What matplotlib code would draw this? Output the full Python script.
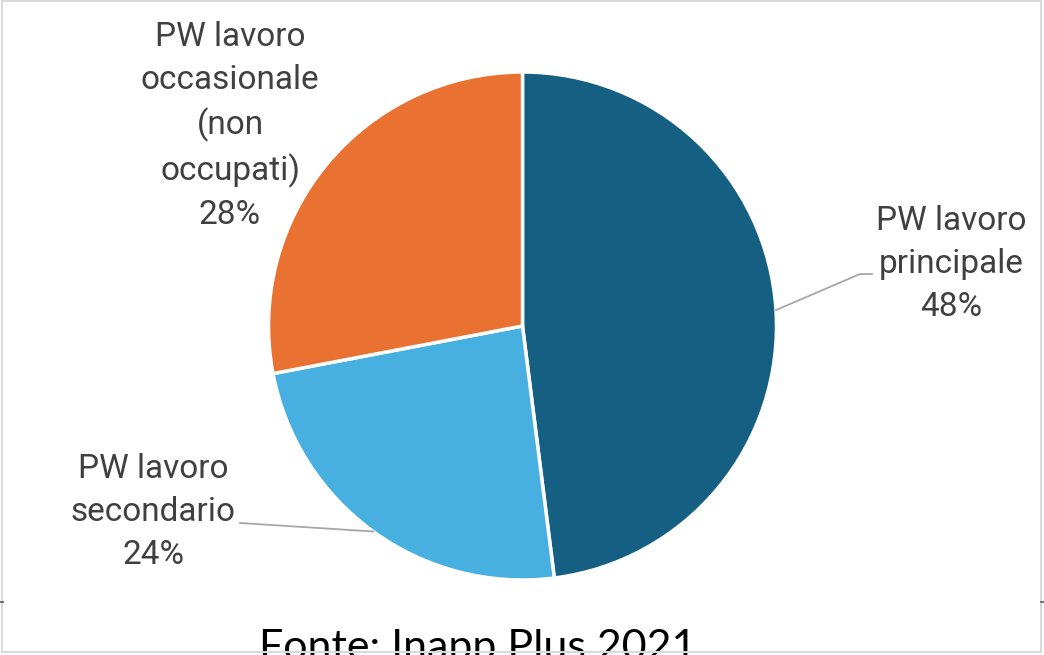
import numpy as np
import matplotlib
matplotlib.use("Agg")
import matplotlib.pyplot as plt
from matplotlib.patches import Rectangle

# Data
categories = ["PW lavoro principale", "PW lavoro secondario", "PW lavoro occasionale (non occupati)"]
label_texts = ["PW lavoro\nprincipale", "PW lavoro\nsecondario", "PW lavoro\noccasionale\n(non\noccupati)"]
shares = [48, 24, 28]
colors = ["#156082", "#47B0E1", "#E97132"]
source_text = "Fonte: Inapp Plus 2021"

W, H = 1044, 655
fig = plt.figure(figsize=(W / 100, H / 100), dpi=100)
ax = fig.add_axes([0, 0, 1, 1])


def py(y):
    # pixel row -> data y
    return H - y


cx, cy, r = 522.5, py(326), 254
wedges, _ = ax.pie(shares, colors=colors, startangle=90, counterclock=False,
                   center=(cx, cy), radius=r, frame=True,
                   wedgeprops=dict(edgecolor="white", linewidth=2.5))
ax.set_xlim(0, W)
ax.set_ylim(0, H)
ax.set_aspect("equal")
ax.axis("off")

# label positions (centre of each label block, pixels)
label_pos = [(951, 264), (153, 512), (230, 126)]
txt_kw = dict(ha="center", va="center", fontsize=24, color="#404040",
              family="Roboto", linespacing=1.43)
for i, (txt, (lx, ly)) in enumerate(zip(label_texts, label_pos)):
    ax.text(lx, py(ly), "{}\n{}%".format(txt, shares[i]), **txt_kw)

# leader lines from wedge midpoints
ang = 90 - np.cumsum([0] + shares[:-1]) * 3.6 - np.array(shares) * 1.8
edge = [(cx + r * np.cos(np.radians(a)), cy + r * np.sin(np.radians(a))) for a in ang]
ax.plot([edge[0][0], 860, 872], [edge[0][1], py(274), py(274)], color="#A6A6A6", lw=1.3)
ax.plot([edge[1][0], 240], [edge[1][1], py(523)], color="#A6A6A6", lw=1.3)

# source caption, cut at the bottom like the original
ax.text(478, py(629), source_text, ha="center", va="top", fontsize=31,
        color="black", family="Lato")

# chart frame
ax.add_patch(Rectangle((2, py(652)), 1039, 651, fill=False, edgecolor="#D9D9D9",
                       lw=1.5, zorder=5))
ax.plot([0, 3], [py(602), py(602)], color="#595959", lw=1.2, zorder=6)
ax.plot([1041, 1044], [py(602), py(602)], color="#595959", lw=1.2, zorder=6)

fig.savefig("out.png", dpi=100)
